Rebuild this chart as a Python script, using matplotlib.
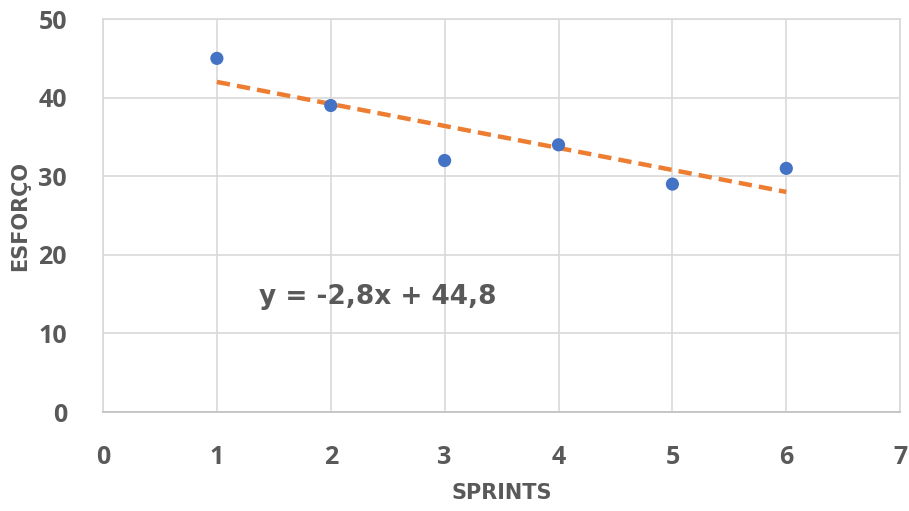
import numpy as np
import matplotlib.pyplot as plt

# data
sprints = [1, 2, 3, 4, 5, 6]
esforco = [45, 39, 32, 34, 29, 31]
x_ticks = [0, 1, 2, 3, 4, 5, 6, 7]
y_ticks = [0, 10, 20, 30, 40, 50]

gray = '#595959'
grid_col = '#d9d9d9'

fig = plt.figure(figsize=(9.09, 5.11), dpi=100)
ax = fig.add_axes([0.1133, 0.1937, 0.877, 0.769])

# linear trend
slope, intercept = np.polyfit(sprints, esforco, 1)
xs = np.array([min(sprints), max(sprints)])
ax.plot(xs, slope * xs + intercept, color='#ED7D31', lw=3.2, ls=(0, (3, 1.6)), zorder=3)

ax.scatter(sprints, esforco, s=90, color='#4472C4', zorder=4, edgecolors='none')

ax.set_xlim(0, 7)
ax.set_ylim(0, 50)
ax.set_xticks(x_ticks)
ax.set_yticks(y_ticks)
ax.grid(True, color=grid_col, lw=1.2)
ax.set_axisbelow(True)
for s in ax.spines.values():
    s.set_color(grid_col)
    s.set_linewidth(1.2)
ax.spines['bottom'].set_color('#bfbfbf')
ax.tick_params(length=0, colors=gray, labelsize=18)
ax.tick_params(axis='x', pad=24)
ax.tick_params(axis='y', pad=26)
for lab in ax.get_xticklabels() + ax.get_yticklabels():
    lab.set_fontweight('bold')
    lab.set_family(['Open Sans', 'DejaVu Sans'])

ax.set_xlabel('SPRINTS', fontsize=15, fontweight='bold', color=gray)
ax.set_ylabel('ESFORÇO', fontsize=15, fontweight='bold', color=gray)
ax.xaxis.set_label_coords(0.5, -0.18)
ax.yaxis.set_label_coords(-0.092, 0.5)

eq = 'y = {:.1f}x + {:.1f}'.format(slope, intercept).replace('.', ',')
ax.text(1.37, 14.6, eq, fontsize=19, fontweight='bold', color=gray, va='center', ha='left')

fig.savefig('out.png', dpi=100)
